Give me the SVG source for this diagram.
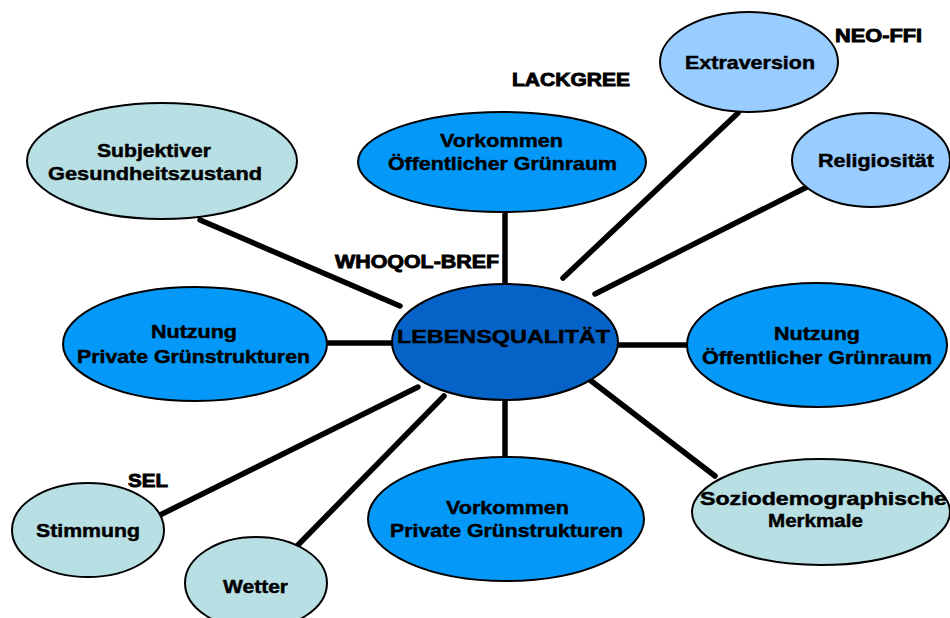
<svg xmlns="http://www.w3.org/2000/svg" width="950" height="618" viewBox="0 0 950 618">
<style>
.n{stroke:#000;stroke-width:2}
.c{fill:#0563C8}
.m{fill:#0499F8}
.l{fill:#99CCFF}
.p{fill:#B8DFE3}
text{font-family:"Liberation Sans",Arial,sans-serif;font-weight:bold;fill:#000;font-size:18px;stroke:#000;stroke-width:0.45}
.lab{font-size:19px;stroke-width:0.9}
#edges line{stroke:#000;stroke-width:5.5;stroke-linecap:round}
</style>
<rect width="950" height="618" fill="#fff"/>
<g id="edges">
<line x1="505" y1="212" x2="505" y2="285"/>
<line x1="200" y1="220" x2="400" y2="306"/>
<line x1="738" y1="113" x2="563" y2="278"/>
<line x1="807" y1="187" x2="595" y2="294"/>
<line x1="326" y1="343" x2="394" y2="343"/>
<line x1="616" y1="345" x2="687" y2="345"/>
<line x1="505" y1="398" x2="505" y2="456"/>
<line x1="590" y1="380" x2="715" y2="476"/>
<line x1="160" y1="515" x2="418" y2="387"/>
<line x1="298" y1="545" x2="444" y2="396"/>
</g>
<g id="lebensqualitaet">
<ellipse class="n c" cx="505" cy="342" rx="113" ry="58"/>
<text x="397" y="343" textLength="213" lengthAdjust="spacingAndGlyphs">LEBENSQUALITÄT</text>
</g>
<g id="vorkommen-oeffentlich">
<ellipse class="n m" cx="502" cy="162" rx="144" ry="50"/>
<text x="440" y="147" textLength="123" lengthAdjust="spacingAndGlyphs">Vorkommen</text>
<text x="388" y="170" textLength="229" lengthAdjust="spacingAndGlyphs">Öffentlicher Grünraum</text>
</g>
<g id="subjektiver">
<ellipse class="n p" cx="162" cy="161" rx="135" ry="58"/>
<text x="97" y="157" textLength="114" lengthAdjust="spacingAndGlyphs">Subjektiver</text>
<text x="48" y="180" textLength="214" lengthAdjust="spacingAndGlyphs">Gesundheitszustand</text>
</g>
<g id="extraversion">
<ellipse class="n l" cx="749" cy="62" rx="89" ry="50"/>
<text x="685" y="69" textLength="130" lengthAdjust="spacingAndGlyphs">Extraversion</text>
</g>
<g id="religiositaet">
<ellipse class="n l" cx="871" cy="160" rx="79" ry="47"/>
<text x="818" y="167" textLength="116" lengthAdjust="spacingAndGlyphs">Religiosität</text>
</g>
<g id="nutzung-private">
<ellipse class="n m" cx="195" cy="344" rx="132" ry="57"/>
<text x="151" y="338" textLength="86" lengthAdjust="spacingAndGlyphs">Nutzung</text>
<text x="77" y="363" textLength="233" lengthAdjust="spacingAndGlyphs">Private Grünstrukturen</text>
</g>
<g id="nutzung-oeffentlich">
<ellipse class="n m" cx="817" cy="345" rx="130" ry="62"/>
<text x="774" y="340" textLength="86" lengthAdjust="spacingAndGlyphs">Nutzung</text>
<text x="702" y="364" textLength="230" lengthAdjust="spacingAndGlyphs">Öffentlicher Grünraum</text>
</g>
<g id="vorkommen-private">
<ellipse class="n m" cx="506" cy="519" rx="138" ry="62"/>
<text x="446" y="514" textLength="123" lengthAdjust="spacingAndGlyphs">Vorkommen</text>
<text x="390" y="537" textLength="233" lengthAdjust="spacingAndGlyphs">Private Grünstrukturen</text>
</g>
<g id="soziodemographisch">
<ellipse class="n p" cx="821" cy="512" rx="129" ry="53"/>
<text x="700" y="505" textLength="247" lengthAdjust="spacingAndGlyphs">Soziodemographische</text>
<text x="768" y="527" textLength="95" lengthAdjust="spacingAndGlyphs">Merkmale</text>
</g>
<g id="stimmung">
<ellipse class="n p" cx="88" cy="530" rx="76" ry="47"/>
<text x="36" y="537" textLength="104" lengthAdjust="spacingAndGlyphs">Stimmung</text>
</g>
<g id="wetter">
<ellipse class="n p" cx="256" cy="583" rx="71" ry="46"/>
<text x="223" y="593" textLength="65" lengthAdjust="spacingAndGlyphs">Wetter</text>
</g>
<g id="labels">
<text class="lab" x="512" y="86" textLength="118" lengthAdjust="spacingAndGlyphs">LACKGREE</text>
<text class="lab" x="835" y="42" textLength="87" lengthAdjust="spacingAndGlyphs">NEO-FFI</text>
<text class="lab" x="335" y="268" textLength="164" lengthAdjust="spacingAndGlyphs">WHOQOL-BREF</text>
<text class="lab" x="128" y="487" textLength="40" lengthAdjust="spacingAndGlyphs">SEL</text>
</g>
</svg>
